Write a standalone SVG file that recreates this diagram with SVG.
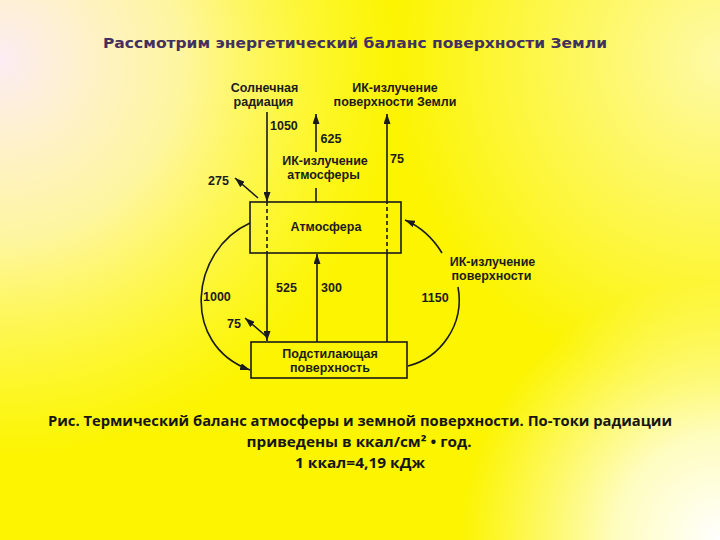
<svg xmlns="http://www.w3.org/2000/svg" width="720" height="540" viewBox="0 0 720 540">
<defs>
<radialGradient id="gTL" gradientUnits="userSpaceOnUse" cx="0" cy="60" r="400">
<stop offset="0" stop-color="#fdecf4" stop-opacity="1"/>
<stop offset="0.45" stop-color="#fff6c8" stop-opacity="0.8"/>
<stop offset="1" stop-color="#ffff80" stop-opacity="0"/>
</radialGradient>
<radialGradient id="gBR" gradientUnits="userSpaceOnUse" cx="720" cy="540" r="260">
<stop offset="0" stop-color="#ffffff" stop-opacity="1"/>
<stop offset="0.4" stop-color="#fffff0" stop-opacity="0.8"/>
<stop offset="1" stop-color="#ffffe0" stop-opacity="0"/>
</radialGradient>
<radialGradient id="gTR" gradientUnits="userSpaceOnUse" cx="720" cy="60" r="330">
<stop offset="0" stop-color="#fffbd0" stop-opacity="0.8"/>
<stop offset="1" stop-color="#fffbd0" stop-opacity="0"/>
</radialGradient>
<marker id="ah" markerUnits="userSpaceOnUse" markerWidth="10" markerHeight="7" refX="10" refY="3.5" orient="auto">
<path d="M0,0 L10,3.5 L0,7 z" fill="#1a1a1a"/>
</marker>
<style>
.ln{fill:none;stroke:#1a1a1a;stroke-width:1.6}
.ds{fill:none;stroke:#1a1a1a;stroke-width:1.6;stroke-dasharray:4 3}
.arr{marker-end:url(#ah)}
.box{fill:none;stroke:#1a1a1a;stroke-width:1.6}
.t{font-family:"Liberation Sans",Arial,sans-serif;font-weight:bold;font-size:12.5px;fill:#1c1c1c}
.m{text-anchor:middle}
.title{font-family:"DejaVu Sans","Liberation Sans",sans-serif;font-weight:bold;font-size:14.5px;fill:#42305e;text-anchor:middle}
.cap{font-family:"Open Sans","Liberation Sans",sans-serif;font-weight:700;font-size:14px;fill:#151515;text-anchor:middle}
</style>
</defs>
<rect x="0" y="0" width="720" height="540" fill="#fcf400"/>
<rect x="0" y="0" width="720" height="540" fill="url(#gTR)"/>
<rect x="0" y="0" width="720" height="540" fill="url(#gTL)"/>
<rect x="0" y="0" width="720" height="540" fill="url(#gBR)"/>

<text class="title" x="355" y="48" textLength="504" lengthAdjust="spacingAndGlyphs">Рассмотрим энергетический баланс поверхности Земли</text>

<g id="connectors">
<path class="ln arr" d="M267,112 V202"/>
<path class="ds" d="M267,202 V253"/>
<path class="ln arr" d="M267,253 V341"/>
<path class="ln arr" d="M316,152 V114"/>
<path class="ln" d="M316,188 V202"/>
<path class="ln" d="M387,342 V253"/>
<path class="ds" d="M387,253 V202"/>
<path class="ln arr" d="M387,202 V114"/>
<path class="ln arr" d="M317,342 V254"/>
<path class="ln arr" d="M258,198 L235,178"/>
<path class="ln arr" d="M267,337 L245,318"/>
<path class="ln arr" d="M250,223 C190,250 180,345 250,370"/>
<path class="ln" d="M408,366 C440,358 465,325 458,287"/>
<path class="ln arr" d="M442,253 Q428,230 405,220"/>
</g>

<g id="atmosphere">
<rect class="box" x="250" y="202" width="151" height="51"/>
<text class="t m" x="326" y="231">Атмосфера</text>
</g>
<g id="surface">
<rect class="box" x="251" y="342" width="156" height="36"/>
<text class="t m" x="330" y="357.5">Подстилающая</text>
<text class="t m" x="330" y="371.5">поверхность</text>
</g>
<g id="solar">
<text class="t m" x="264.5" y="92">Солнечная</text>
<text class="t m" x="263.5" y="106">радиация</text>
</g>
<g id="ir-earth">
<text class="t m" x="395" y="92">ИК-излучение</text>
<text class="t m" x="395" y="106">поверхности Земли</text>
</g>
<g id="ir-atmosphere">
<text class="t m" x="325" y="164.5">ИК-излучение</text>
<text class="t m" x="323.5" y="178.5">атмосферы</text>
</g>
<g id="ir-surface">
<text class="t m" x="492.5" y="265.5">ИК-излучение</text>
<text class="t m" x="491.5" y="279.5">поверхности</text>
</g>
<g id="labels">
<text class="t" x="270" y="130">1050</text>
<text class="t" x="320.5" y="142.5">625</text>
<text class="t" x="390" y="163">75</text>
<text class="t" x="208" y="185">275</text>
<text class="t" x="276" y="291.5">525</text>
<text class="t" x="321" y="291.5">300</text>
<text class="t" x="203" y="300.5">1000</text>
<text class="t" x="227" y="328">75</text>
<text class="t" x="421.5" y="301.5">1150</text>
</g>

<g id="caption">
<text class="cap" x="360" y="426" textLength="624" lengthAdjust="spacingAndGlyphs">Рис. Термический баланс атмосферы и земной поверхности. По-токи радиации</text>
<text class="cap" x="359" y="447" textLength="225" lengthAdjust="spacingAndGlyphs">приведены в ккал/см² • год.</text>
<text class="cap" x="360" y="467.5" textLength="130" lengthAdjust="spacingAndGlyphs">1 ккал=4,19 кДж</text>
</g>
</svg>
